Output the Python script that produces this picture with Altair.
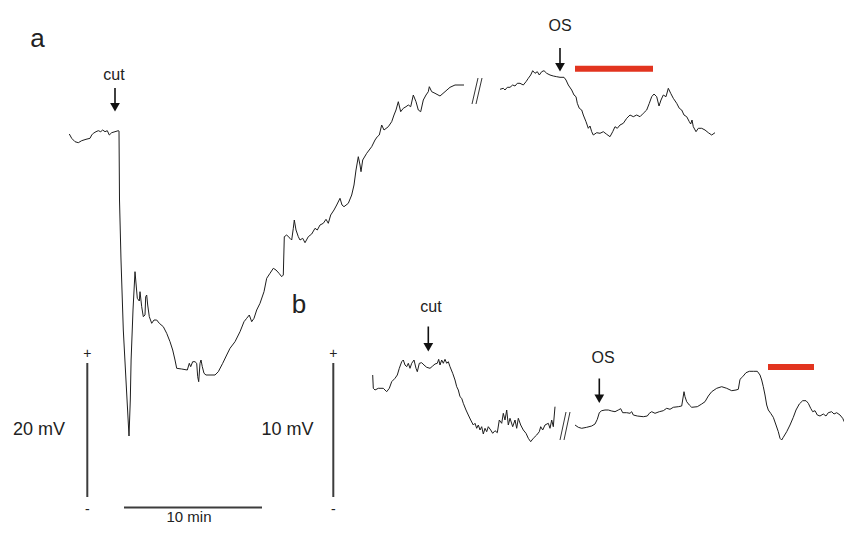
import altair as alt
import pandas as pd

# ---------------- trace data (x = time axis, y = potential axis) ----------------
# trace a, before the break
a1_x = [69.3, 71.7, 75, 78.3, 81.7, 86, 90, 91.7, 93.3, 96, 98.3, 100.7, 102.7, 105, 107.3, 109.3, 111.7, 115, 118.3,
        119, 119.5, 121, 123.3, 126.5, 129, 130.3, 131.1, 133, 135,
        137.3, 139.3, 140, 141.7, 143.3, 145, 145.7, 146.7, 147.7, 149.3, 151.7, 154, 156.7, 159.3, 163.3, 166.7,
        170, 172.7, 175, 176.7, 181.7, 187.3, 189.3, 190.7, 192.7, 195, 196.7, 197.7, 198.7, 200, 201, 202.3, 204,
        206, 210, 215, 218.3, 222.7, 226.7, 230, 235, 240, 244, 246.7, 249.3, 251.7, 254, 256.7, 260, 264, 266.7,
        270, 273.3, 276, 279, 281.7, 283.3, 284.3, 286.7, 290, 291.7, 293.3, 294.3, 296, 298.3, 300, 302.7, 305,
        308.3, 311.7, 315, 317.3, 320, 323.3, 326, 328.3, 330.7, 334, 336.7, 340, 342, 344, 348.3, 351.7, 354, 356,
        358.3, 360, 361, 362.7, 366.7, 371.7, 375, 377.3, 379.3, 381.7, 384, 388.3, 391.7, 394, 396, 398.3, 400.7,
        403.3, 406, 408.3, 410.7, 413.3, 416, 418.3, 420.7, 423.3, 426, 428.3, 429.3, 431.7, 435, 440, 445, 450,
        455, 464]
a1_y = [134, 138.3, 141.7, 142.7, 140.7, 139.3, 138.3, 135, 133.3, 131.7, 130.7, 131.7, 130, 131.7, 130.7, 135, 132.7,
        131.7, 130.7,
        131, 200, 260, 330, 390, 436, 400, 360, 310, 271.7,
        298.3, 301, 291.7, 306.7, 316.7, 315, 296.7, 295, 305, 316.7, 323.3, 320, 320, 323.3, 326.7, 333.3,
        341.7, 350, 360, 368.3, 369, 370, 363.3, 366.7, 361.7, 361.7, 363.3, 376.7, 381.7, 363.3, 360, 366.7, 373.3,
        375, 375, 375, 371.7, 363.3, 355, 348.3, 341.7, 331.7, 321.7, 318.3, 315, 321.7, 318.3, 310, 303.3, 291.7,
        278.3, 273.3, 268.3, 270, 273.3, 276.7, 275, 236.7, 235, 238.3, 240, 228.3, 220, 230, 236.7, 240, 238.3,
        242.7, 236.7, 234, 228.3, 230, 225, 223.3, 219.3, 223.3, 215, 210, 205, 198.3, 205, 206.7, 203.3, 195, 185,
        170, 156.7, 165, 171.7, 160, 153.3, 146.7, 140, 136.7, 135, 125, 130, 126.7, 121.7, 115, 110, 101.7, 111.7,
        108.3, 106.7, 105, 106.7, 95, 101.7, 110, 111.7, 100, 95, 91.7, 86.7, 91.7, 93.3, 96, 91.7, 87.3, 85, 85]

# trace a, after the break
a2_x = [500, 503.3, 505, 507.3, 510, 512.7, 515, 517.3, 520, 523.3, 526, 528.3, 530.7, 532.7, 535, 537.3, 539.3,
        541.7, 544, 546.7, 550, 553.3, 556.7, 560, 564, 566, 568.3, 571.7, 574, 576, 577.3, 579.3, 581.7, 583.3,
        586, 588.3, 590, 591.7, 593.3, 596.7, 600, 603.3, 606.7, 610, 612.7, 615, 617.3, 620, 623.3, 626.7, 630,
        633.3, 636.7, 640, 643.3, 646.7, 649.3, 651.7, 654, 656.7, 659, 661, 663.3, 666, 668.3, 670.7, 673.3,
        676.7, 679.3, 681.7, 684, 686.7, 689.3, 690.7, 692, 693.3, 696, 698.3, 701.7, 705, 708.3, 711.7, 715]
a2_y = [89.3, 88.3, 90, 87.3, 87.3, 85, 86, 83.3, 83.3, 85, 81.7, 78.3, 75, 70.7, 73.3, 71.7, 75, 71.7, 70.7, 73.3,
        75, 76, 76.7, 77.3, 77.3, 80, 85, 90, 95, 96.7, 103.3, 108.3, 110, 115, 121.7, 128.3, 126, 131.7, 135,
        132.7, 133.3, 131.7, 134.3, 136.7, 131.7, 126.7, 128.3, 125, 123.3, 118.3, 115, 116.7, 115, 116.7, 113.3,
        110, 103.3, 96.7, 94, 96.7, 106, 100, 95, 96.7, 88.3, 93.3, 98.3, 103.3, 108.3, 110, 115, 116.7, 121.7,
        124, 120, 126.7, 131.7, 128.3, 128.3, 130, 132.7, 135, 132.7]

# trace b, before the break
b1_x = [372.7, 373.3, 375, 378.3, 383.3, 386.7, 389.3, 391.7, 395, 397.3, 399.3, 401.7, 403.3, 405, 406.7, 408.3,
        410, 411.7, 414, 416, 417.3, 419.3, 421.7, 424, 426.7, 430, 432.7, 435, 437.3, 438.7, 440, 441.7, 443.3,
        445, 446.7, 448.3, 450, 452.7, 455, 456.7, 458.3, 460, 461.7, 463.3, 466, 468.3, 470.7, 473.3, 475, 476.7,
        478.3, 480, 481.7, 483.3, 485, 486.7, 488.3, 490.7, 492.7, 495, 497.3, 499.3, 501.7, 503.3, 505, 506.7,
        508.3, 510, 512.7, 515, 516.7, 518.3, 520.7, 523.3, 526, 528.3, 530.7, 533.3, 536.7, 539.3, 540.7, 542.7,
        545, 548.3, 550, 551.7, 553.3, 555]
b1_y = [375, 388.3, 390, 388.3, 388.3, 391.7, 388.3, 381.7, 378.3, 375, 368.3, 361.7, 360, 365, 366.7, 363.3, 368.3,
        363.3, 360, 368.3, 371.7, 363.3, 362.7, 365, 367.3, 368.3, 366, 364, 363.3, 359.3, 365, 360, 363.3, 359.3,
        363.3, 361.7, 366.7, 373.3, 380, 386.7, 390, 396.7, 398.3, 403.3, 410, 415, 420, 425, 423.3, 428.3, 425,
        430, 426.7, 434, 428.3, 431.7, 426.7, 430, 433.3, 430.7, 432.7, 420, 423.3, 413.3, 420, 410, 425, 418.3,
        426.7, 420, 428.3, 418.3, 425, 430, 433.3, 438.3, 441.7, 438.3, 435, 431.7, 426.7, 430, 425, 423.3, 428.3,
        420, 426.7, 406.7]

# trace b, after the break
b2_x = [575, 578.3, 581.7, 586.7, 591.7, 595, 597.3, 599.3, 601.7, 605, 608.3, 611.7, 615, 618.3, 620.7, 622.7,
        626.7, 630, 631.7, 633.3, 637.3, 643.3, 647.3, 649.3, 651.7, 655, 659.3, 663.3, 666.7, 670, 673.3, 678.3,
        681.7, 684, 685, 686.7, 689.3, 691.7, 697.3, 701.7, 705, 708.3, 711.7, 716.7, 721.7, 726.7, 731.7, 736,
        738.3, 740, 742.7, 746, 749.3, 753.3, 757.3, 760, 761.7, 763.3, 765, 766.7, 768.3, 770.7, 773.3, 776,
        778.3, 780, 781.7, 783.3, 786.7, 790, 793.3, 796, 799.3, 802.7, 806, 808.3, 810.7, 812.7, 815, 817.3, 820,
        823.3, 826, 828.3, 831.7, 834, 836.7, 840, 842.7, 845, 847.3, 850, 851.7]
b2_y = [425, 427.3, 428.3, 427.3, 426, 424, 419.3, 412.7, 410.7, 410, 410, 411, 411.7, 410, 408.7, 412.7, 412.7,
        413.3, 411.7, 415, 416, 416.7, 416, 413.3, 411.7, 413.3, 411.7, 410.7, 408.3, 409.3, 407.3, 406.7, 406,
        391.7, 396.7, 401.7, 405, 407.3, 406.7, 404, 401.7, 396, 391.7, 388.3, 386.7, 388.3, 390.7, 390, 389.3,
        379.3, 376.7, 372.7, 371.3, 371.3, 371.3, 375, 380, 386.7, 395, 405, 410, 413.3, 417.3, 425, 431.7, 438.3,
        440, 437.3, 431.7, 425, 417.3, 410, 404, 400.7, 400.7, 403.3, 408.3, 411.7, 410.7, 415, 416, 414, 416,
        412.7, 411.7, 414, 412.7, 415, 418.3, 423.3, 425, 420, 415]

# break marks "//"
brk_x = [[472, 478], [476, 482], [560, 566], [564, 570]]
brk_y = [[104, 78], [104, 78], [440, 412], [440, 412]]

# scale bars: (x, y, x2, y2)
bar_names = ["20 mV", "10 mV", "10 min"]
bar_x = [87.3, 333.3, 124]
bar_y = [363, 363, 507.5]
bar_x2 = [87.3, 333.3, 262]
bar_y2 = [497, 497, 507.5]

# stimulus (red) bars
red_x = [575, 768]
red_x2 = [653, 814]
red_y = [68.7, 367]

# arrows: x, shaft top, tip
arr_x = [115, 560, 428.3, 599.3]
arr_top = [88, 48, 326.5, 378.5]
arr_tip = [113, 73, 353, 404.5]

# labels
lab_text = ["cut", "OS", "cut", "OS", "20 mV", "10 mV", "10 min", "+", "-", "+", "-"]
lab_x = [114, 560, 431, 603, 39, 287.5, 189, 87.3, 87.3, 333.3, 333.3]
lab_y = [80, 30.7, 312, 362.7, 435, 435, 521.5, 357.5, 514, 357.5, 514]
lab_size = [16, 16, 16, 16, 18, 18, 15, 14, 14, 14, 14]
panel_text = ["a", "b"]
panel_x = [37.5, 299]
panel_y = [46.5, 313]

# ---------------- build tables ----------------
def seg(name, xs, ys):
    return pd.DataFrame({"seg": name, "i": list(range(len(xs))), "x": xs, "y": ys})

traces = pd.concat([seg("a1", a1_x, a1_y), seg("a2", a2_x, a2_y),
                    seg("b1", b1_x, b1_y), seg("b2", b2_x, b2_y)], ignore_index=True)
breaks = pd.concat([seg(f"k{k}", brk_x[k], brk_y[k]) for k in range(len(brk_x))], ignore_index=True)
bars = pd.DataFrame({"name": bar_names, "x": bar_x, "y": bar_y, "x2": bar_x2, "y2": bar_y2})
reds = pd.DataFrame({"x": red_x, "x2": red_x2, "y": red_y})
arrows = pd.DataFrame({"x": arr_x, "top": arr_top, "tip": arr_tip})
arrows["shaft_end"] = arrows["tip"] - 6
arrows["head"] = arrows["tip"] - 5.8
labels = pd.DataFrame({"text": lab_text, "x": lab_x, "y": lab_y, "size": lab_size})
panels = pd.DataFrame({"text": panel_text, "x": panel_x, "y": panel_y})

XS = alt.Scale(domain=[8, 844])
YS = alt.Scale(domain=[8, 526], reverse=True)
FONT = "Liberation Sans"

def X(f):
    return alt.X(f, scale=XS, axis=None)

def Y(f):
    return alt.Y(f, scale=YS, axis=None)

trace_layer = alt.Chart(traces).mark_line(color="#1e1e1e", strokeWidth=1, strokeJoin="round").encode(
    x=X("x:Q"), y=Y("y:Q"), detail="seg:N", order="i:Q")

break_layer = alt.Chart(breaks).mark_line(color="#333333", strokeWidth=1).encode(
    x=X("x:Q"), y=Y("y:Q"), detail="seg:N", order="i:Q")

bar_layer = alt.Chart(bars).mark_rule(color="#3c3c3c", strokeWidth=2).encode(
    x=X("x:Q"), y=Y("y:Q"), x2="x2:Q", y2="y2:Q")

red_layer = alt.Chart(reds).mark_rule(color="#e2341f", strokeWidth=6, strokeCap="butt").encode(
    x=X("x:Q"), x2="x2:Q", y=Y("y:Q"))

shaft_layer = alt.Chart(arrows).mark_rule(color="#111111", strokeWidth=1.6).encode(
    x=X("x:Q"), y=Y("top:Q"), y2="shaft_end:Q")

head_layer = alt.Chart(arrows).mark_point(shape="triangle-down", filled=True, size=95,
                                          color="#111111", opacity=1).encode(
    x=X("x:Q"), y=Y("head:Q"))

label_layer = alt.Chart(labels).mark_text(font=FONT, color="#222222", baseline="alphabetic",
                                          align="center").encode(
    x=X("x:Q"), y=Y("y:Q"), text="text:N",
    size=alt.Size("size:Q", scale=None, legend=None))

panel_layer = alt.Chart(panels).mark_text(font=FONT, color="#222222", fontSize=26,
                                          baseline="alphabetic", align="center").encode(
    x=X("x:Q"), y=Y("y:Q"), text="text:N")

chart = alt.layer(trace_layer, break_layer, bar_layer, red_layer, shaft_layer, head_layer,
                  label_layer, panel_layer).properties(
    width=836, height=518, padding=0, background="white",
    autosize=alt.AutoSizeParams(type="none")
).configure_view(stroke="transparent", strokeWidth=0)

chart.save("out.html", embed_options={"renderer": "svg", "actions": False})
